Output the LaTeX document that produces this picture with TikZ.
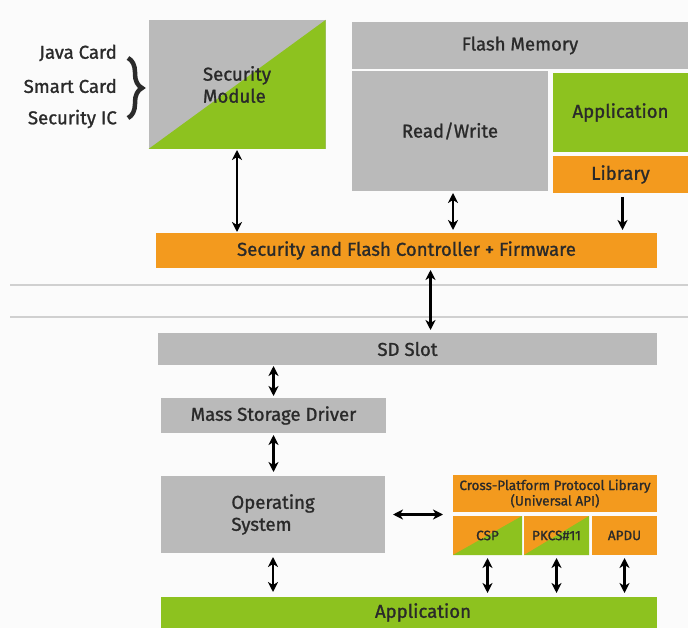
\documentclass[tikz,border=0pt]{standalone}
\usepackage{fontspec}
\setmainfont{Fira Sans}[FakeBold=1.2]
\usetikzlibrary{arrows.meta,decorations.pathreplacing}
\definecolor{boxgray}{HTML}{BABABA}
\definecolor{grn}{HTML}{8DC21F}
\definecolor{org}{HTML}{F39A1E}
\definecolor{txt}{HTML}{2A2A2A}
\definecolor{rulegray}{HTML}{D0D0D0}
\definecolor{bg}{HTML}{FBFBFB}
\begin{document}
\begin{tikzpicture}[x=1pt,y=-1pt,
  box/.style={rectangle, inner sep=0pt, outer sep=0pt, text=txt, align=center,
    font=\fontsize{18.6}{22}\selectfont},
  gbox/.style={box, fill=boxgray},
  obox/.style={box, fill=org},
  grbox/.style={box, fill=grn},
  diag/.style={path picture={\fill[#1] (path picture bounding box.south west) -- (path picture bounding box.north east) -- (path picture bounding box.south east) -- cycle;}},
  small/.style={font=\fontsize{13.5}{15.5}\selectfont},
  lbl/.style={anchor=east, text=txt, inner sep=0pt, font=\fontsize{18.6}{22}\selectfont},
  tip/.tip={Stealth[length=10pt,width=10pt,inset=3pt]},
  one/.style={line width=2.2pt, -tip},
  two/.style={line width=2.2pt, tip-tip}
]
\useasboundingbox (0,0) rectangle (688,628);
\fill[bg] (0,0) rectangle (688,628);
\draw[rulegray, line width=2pt] (10,285) -- (688,285);
\draw[rulegray, line width=2pt] (10,317) -- (688,317);

% top part
\node[gbox, diag=grn, minimum width=177pt, minimum height=129pt, align=left] (sm) at (237,84.5) {Security\\Module};
\node[lbl] (jc) at (117,53) {Java Card};
\node[lbl] (sc) at (117,86) {Smart Card};
\node[lbl] (si) at (117,119) {Security IC};
\draw[txt, line width=4.5pt, decorate, decoration={brace, amplitude=14pt}] (128,58) -- (128,118);

\node[gbox, minimum width=336pt, minimum height=47pt] (fm) at (520,45.5) {Flash Memory};
\node[gbox, minimum width=196pt, minimum height=120pt] (rw) at (450,131) {Read/Write};
\node[grbox, minimum width=135pt, minimum height=79pt] (app1) at (620.5,112.5) {Application};
\node[obox, minimum width=135pt, minimum height=37pt] (lib) at (620.5,174.5) {Library};
\node[obox, minimum width=501pt, minimum height=35pt] (ctrl) at (406.5,250.5) {Security and Flash Controller + Firmware};

% bottom part
\node[gbox, minimum width=499pt, minimum height=32pt] (sd) at (407.5,349) {SD Slot};
\node[gbox, minimum width=225pt, minimum height=35pt] (msd) at (273.5,415.5) {Mass Storage Driver};
\node[gbox, minimum width=224pt, minimum height=77pt, align=left] (os) at (273,514.5) {Operating\\System};
\node[grbox, minimum width=496pt, minimum height=31pt] (app2) at (409,612.5) {\hspace*{28pt}Application};
\node[obox, small, minimum width=204pt, minimum height=37pt] (cpl) at (555,493.5) {Cross-Platform Protocol Library\\(Universal API)};
\node[obox, small, diag=grn, minimum width=69pt, minimum height=39pt] (csp) at (487.5,535.5) {CSP};
\node[obox, small, diag=grn, minimum width=65pt, minimum height=39pt] (pkcs) at (556.5,535.5) {PKCS\#11};
\node[obox, small, minimum width=65pt, minimum height=39pt] (apdu) at (624.5,535.5) {APDU};

% connectors
\draw[two, shorten <=1pt, shorten >=1pt] (sm.south) -- (sm.south |- ctrl.north);
\draw[two, shorten <=2pt, shorten >=3pt] ([xshift=3pt]rw.south) -- ([xshift=3pt]rw.south |- ctrl.north);
\draw[one, shorten <=4pt, shorten >=3pt] ([xshift=2pt]lib.south) -- ([xshift=2pt]lib.south |- ctrl.north);
\draw[two, shorten <=2pt, shorten >=3pt] ([xshift=24pt]ctrl.south) -- ([xshift=24pt]ctrl.south |- sd.north);
\draw[two, shorten <=1pt, shorten >=2pt] (sd.south -| msd.north) -- (msd.north);
\draw[two, shorten <=2pt, shorten >=4pt] (msd.south) -- (msd.south |- os.north);
\draw[two, shorten <=4pt, shorten >=5pt] (os.south) -- (os.south |- app2.north);
\draw[two, shorten <=8pt, shorten >=10pt] (os.east) -- (os.east -| cpl.west);
\draw[two, shorten <=3pt, shorten >=4pt] (csp.south) -- (csp.south |- app2.north);
\draw[two, shorten <=3pt, shorten >=4pt] (pkcs.south) -- (pkcs.south |- app2.north);
\draw[two, shorten <=3pt, shorten >=4pt] (apdu.south) -- (apdu.south |- app2.north);
\end{tikzpicture}
\end{document}
